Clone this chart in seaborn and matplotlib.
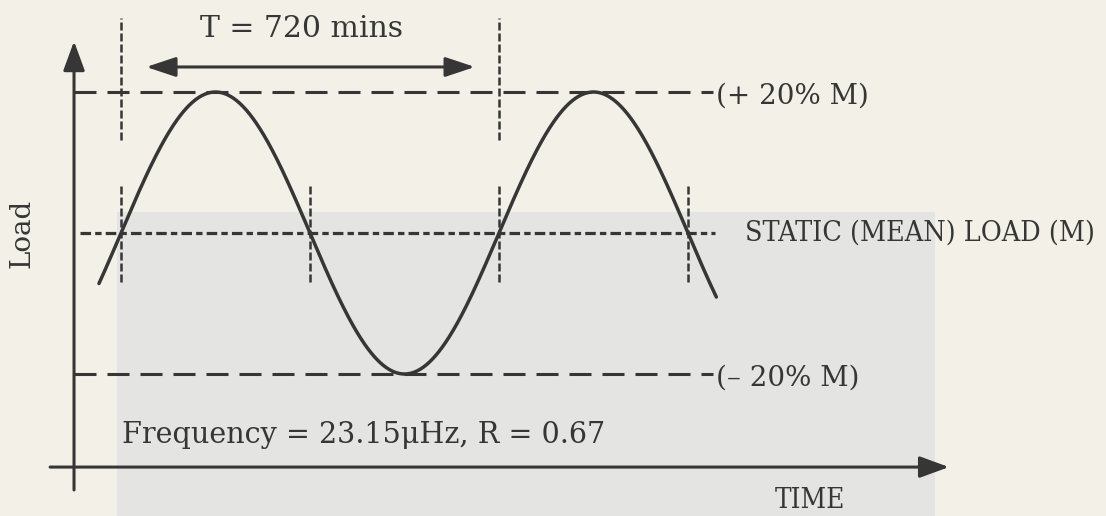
import numpy as np
import pandas as pd
import matplotlib
matplotlib.use("Agg")
import matplotlib.pyplot as plt
from matplotlib.patches import Rectangle
import seaborn as sns

# Cyclic load definition (values as stated on the diagram)
period_mins = 720            # T
amplitude_frac = 0.20        # +/- 20 % of the mean load M
mean_load = 1.0              # M
r_ratio = 0.67
frequency_uhz = 23.15

# Span of the drawn curve and of the guide lines (minutes)
curve_start, curve_end = -42, 1134
crossings = [0, 360, 720, 1080]          # where the load passes through M
upper_marks = [0, 720]                   # one full period

labels = {
    "period": f"T = {period_mins} mins",
    "upper": "(+ 20% M)",
    "lower": "(\u2013 20% M)",
    "mean": "STATIC (MEAN) LOAD (M)",
    "freq": f"Frequency = {frequency_uhz}\u03bcHz, R = {r_ratio}",
    "xlabel": "TIME",
    "ylabel": "Load",
}

sns.set_theme(style="white")
plt.rcParams["font.family"] = ["DejaVu Serif", "DejaVu Sans"]

ink = "#363636"
paper = "#f2f0e7"
shade = "#e4e4e2"

fig = plt.figure(figsize=(11.06, 5.16), dpi=100, facecolor=paper)
ax = fig.add_axes([0, 0, 1, 1])
ax.set_facecolor(paper)
ax.set_xlim(-230.5, 1876.2)
ax.set_ylim(0.5986, 1.3305)
ax.set_axis_off()

# shaded region of the sheet
ax.add_patch(Rectangle((-7.6, 0.55), 1559, 0.4805, facecolor=shade,
                       edgecolor="none", zorder=0))

# sinusoidal load history
t = np.linspace(curve_start, curve_end, 600)
load = mean_load + amplitude_frac * np.sin(2 * np.pi * t / period_mins)
df = pd.DataFrame({"time": t, "load": load})
sns.lineplot(data=df, x="time", y="load", ax=ax, color=ink, lw=2.5,
             zorder=4, sort=False)

# axes with arrow heads
head = dict(arrowstyle="-|>,head_length=1.5,head_width=0.55", color=ink,
            lw=2.2, shrinkA=0, shrinkB=0)
ax.annotate("", xy=(-89.5, 1.272), xytext=(-89.5, 0.6355), arrowprops=head,
            zorder=5)
ax.annotate("", xy=(1577, 0.668), xytext=(-135, 0.668), arrowprops=head,
            zorder=5)

# period dimension arrow
dim = dict(arrowstyle="<|-|>,head_length=1.5,head_width=0.5", color=ink,
           lw=2.2, shrinkA=0, shrinkB=0)
ax.annotate("", xy=(48, 1.2355), xytext=(674, 1.2355), arrowprops=dim,
            zorder=5)

# +/- amplitude limits
hi = mean_load + amplitude_frac
lo = mean_load - amplitude_frac
for y in (hi, lo):
    ax.plot([-89.5, 1128], [y, y], color=ink, lw=2.2,
            dashes=(7.2, 3.6), zorder=3)

# static mean load
ax.plot([-78, 1131], [mean_load, mean_load], color=ink, lw=2.3,
        dashes=(3.3, 1.3, 2.0, 1.3), zorder=3)

# vertical guides at crossings and across one period
for x in crossings:
    ax.plot([x, x], [0.930, 1.071], color=ink, lw=1.8,
            dashes=(3.2, 1.2), zorder=3)
for x in upper_marks:
    ax.plot([x, x], [1.132, 1.305], color=ink, lw=1.8,
            dashes=(3.2, 1.2), zorder=3)

ax.text(343, 1.290, labels["period"], fontsize=21.5, color=ink,
        ha="center", va="center")
ax.text(1134, hi - 0.006, labels["upper"], fontsize=20, color=ink,
        ha="left", va="center")
ax.text(1134, lo - 0.006, labels["lower"], fontsize=20, color=ink,
        ha="left", va="center")
ax.text(1188, mean_load, labels["mean"], fontsize=20.5, color=ink,
        ha="left", va="center", fontstretch="condensed")
ax.text(2, 0.7135, labels["freq"], fontsize=20.6, color=ink,
        ha="left", va="center")
ax.text(1312, 0.621, labels["xlabel"], fontsize=20, color=ink,
        ha="center", va="center", fontstretch="condensed")
ax.text(-188.6, mean_load, labels["ylabel"], fontsize=20, color=ink,
        ha="center", va="center", rotation=90)

fig.savefig("out.png", dpi=100, facecolor=paper)
